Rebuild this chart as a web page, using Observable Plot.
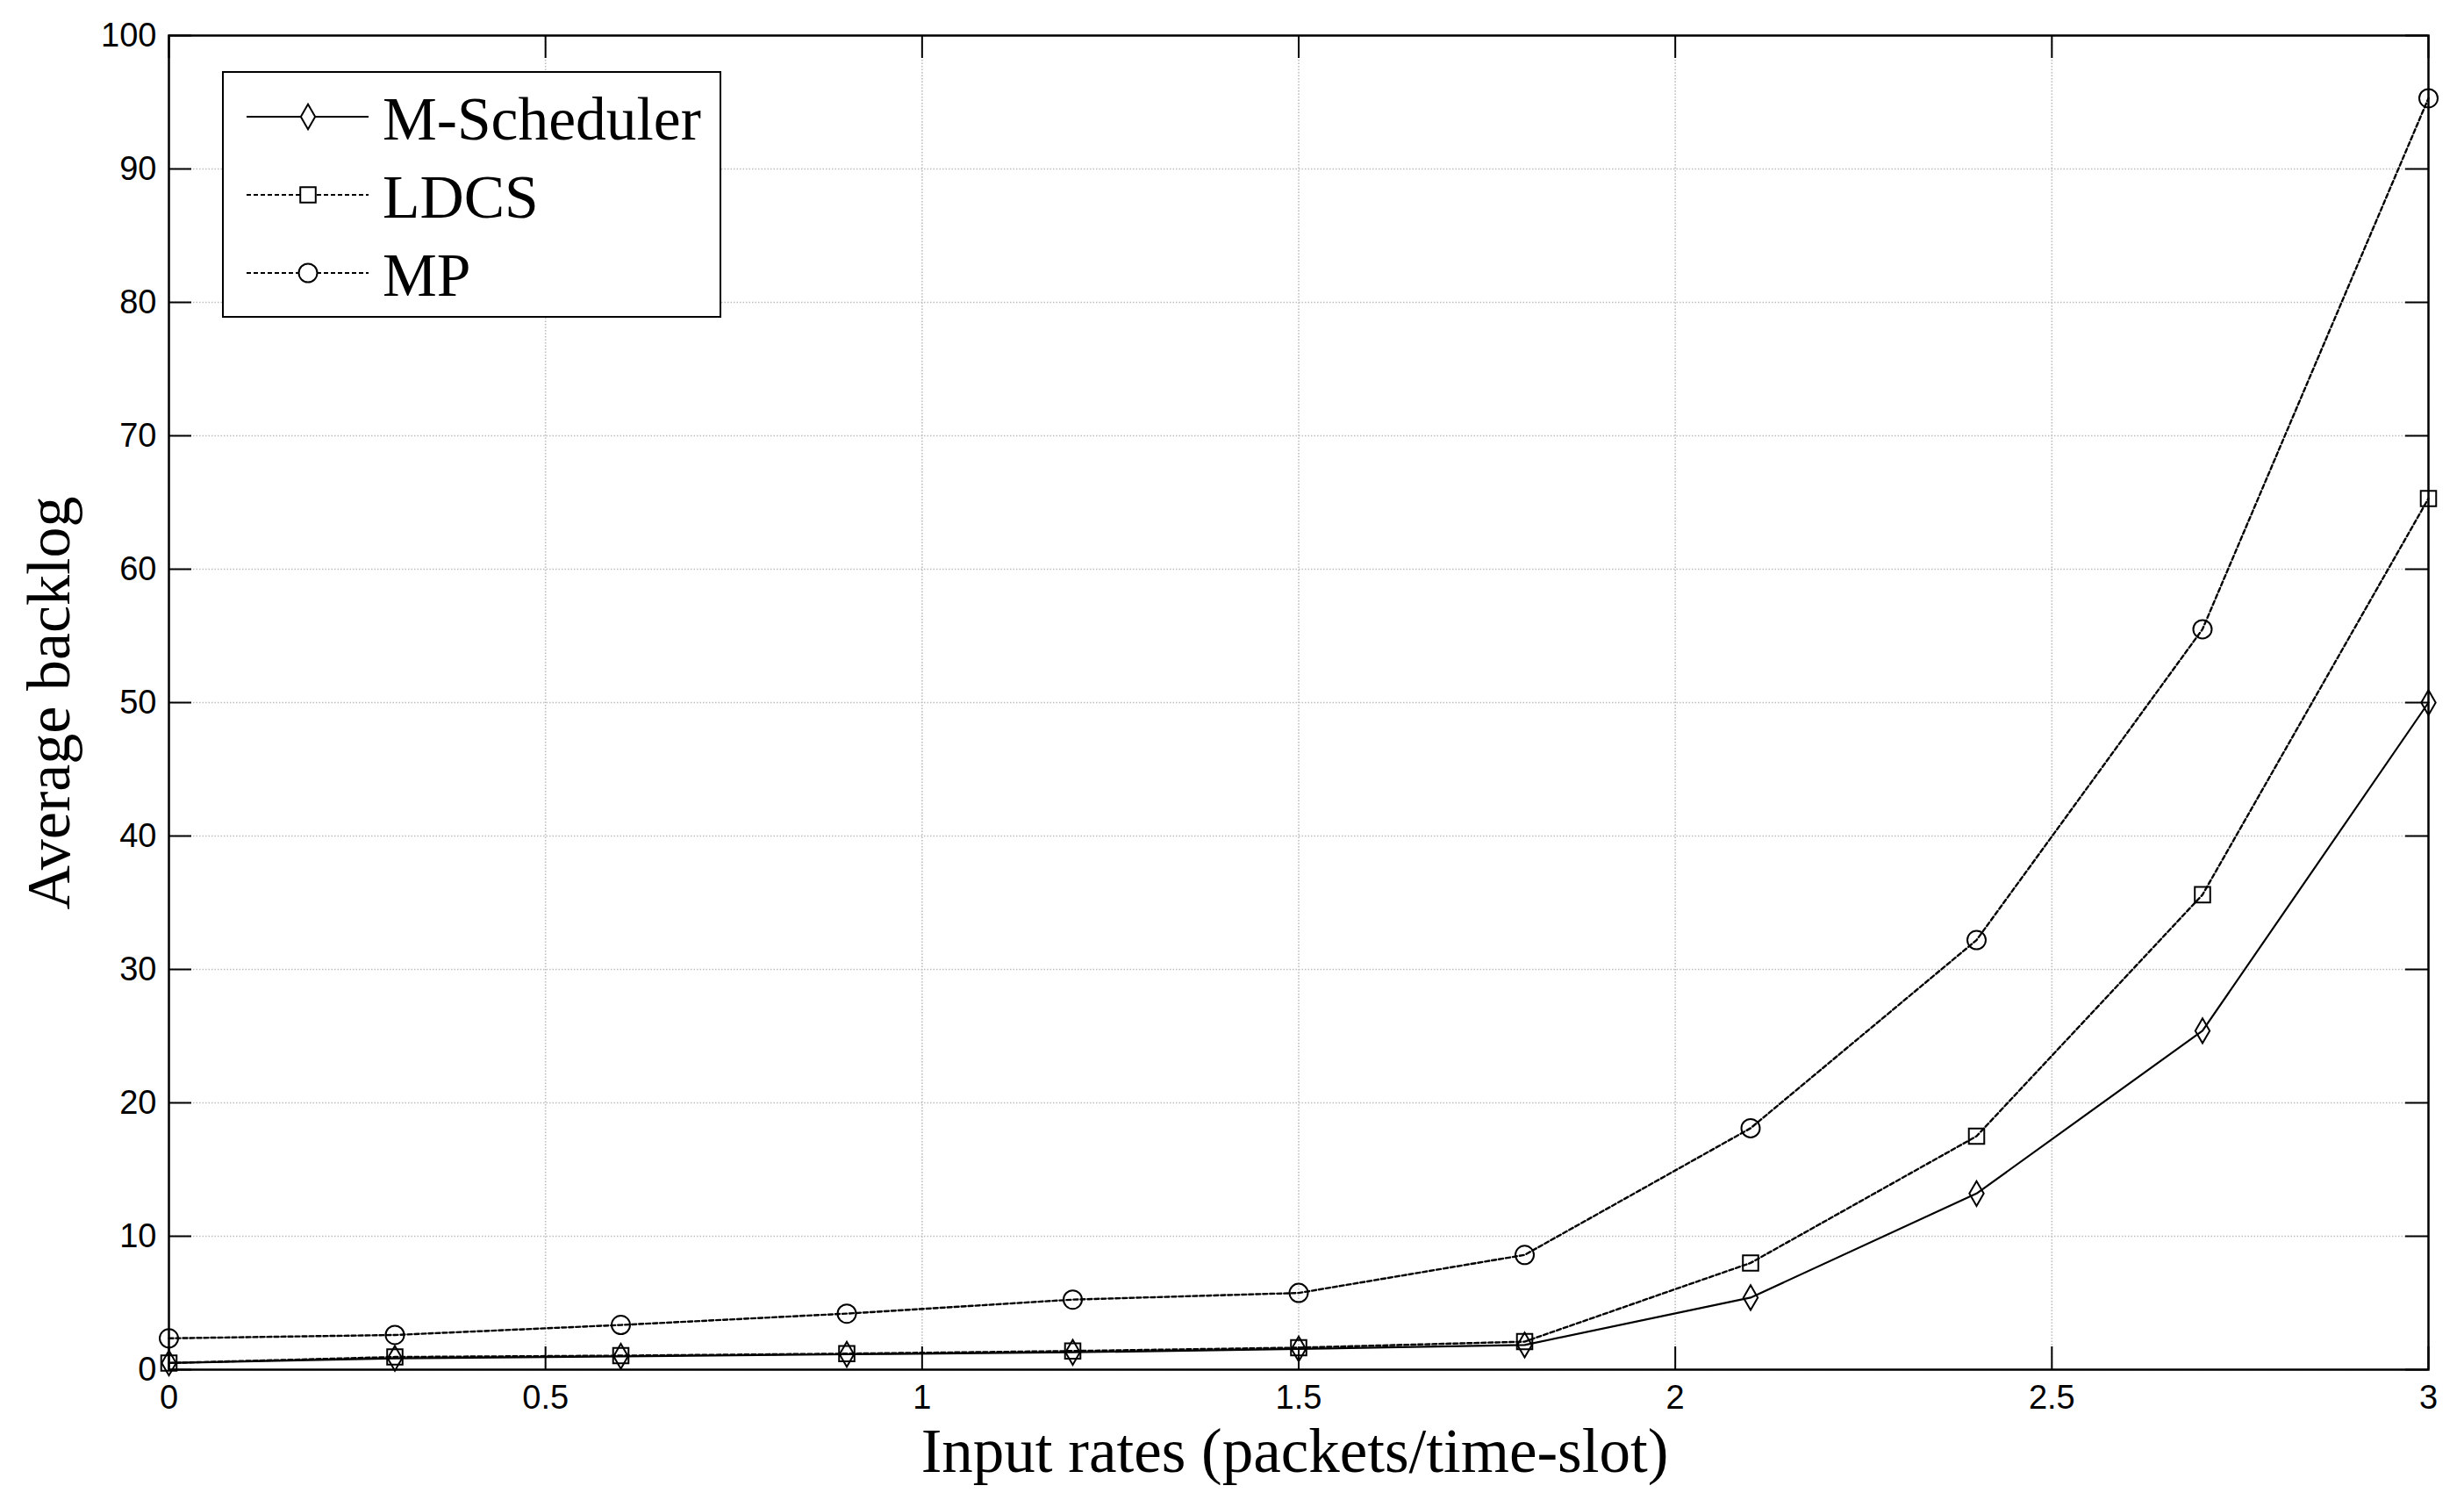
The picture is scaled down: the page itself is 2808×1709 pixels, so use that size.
<!DOCTYPE html>
<html><head><meta charset="utf-8">
<script src="https://cdn.jsdelivr.net/npm/d3@7"></script>
<script src="https://cdn.jsdelivr.net/npm/@observablehq/plot@0.6"></script>
<style>html,body{margin:0;padding:0;background:#fff;} #chart{width:2808px;height:1709px;}</style>
</head><body><div id="chart"></div>
<script>
// ---- data ----
const xValues = [0, 0.3, 0.6, 0.9, 1.2, 1.5, 1.8, 2.1, 2.4, 2.7, 3.0];
const mScheduler = [0.5, 0.85, 1.0, 1.15, 1.3, 1.55, 1.85, 5.4, 13.2, 25.4, 50.0];
const ldcs = [0.5, 0.95, 1.05, 1.2, 1.4, 1.65, 2.1, 8.0, 17.5, 35.6, 65.3];
const mp = [2.35, 2.6, 3.35, 4.2, 5.25, 5.75, 8.6, 18.1, 32.2, 55.5, 95.3];
const seriesNames = ["M-Scheduler", "LDCS", "MP"];
const xTicks = [0, 0.5, 1, 1.5, 2, 2.5, 3];
const yTicks = [0, 10, 20, 30, 40, 50, 60, 70, 80, 90, 100];
const xLabel = "Input rates (packets/time-slot)";
const yLabel = "Average backlog";

// ---- layout / style ----
const W = 2808, H = 1709;
const mL = 192, mR = 41, mT = 40, mB = 149;
const frameW = W - mL - mR, frameH = H - mT - mB;
const tickLen = 26;
const seriesValues = [mScheduler, ldcs, mp];
const styles = [
  {symbol: "diamond", r: 8.6, dash: null},
  {symbol: "square", r: 9.9, dash: "5,3"},
  {symbol: "circle", r: 10.5, dash: "5,3"}
];
const tables = seriesValues.map((vals, i) => xValues.map((x, j) => ({x, y: vals[j], series: seriesNames[i]})));

const gridStyle = {stroke: "#bdbdbd", strokeOpacity: 1, strokeWidth: 1.6, strokeDasharray: "1.5,2"};
const marks = [
  Plot.gridX(xTicks, gridStyle),
  Plot.gridY(yTicks, gridStyle)
];
tables.forEach((t, i) => {
  marks.push(Plot.line(t, {x: "x", y: "y", stroke: "black", strokeWidth: i === 0 ? 2.2 : 2.4, strokeDasharray: styles[i].dash}));
});
tables.forEach((t, i) => {
  marks.push(Plot.dot(t, {x: "x", y: "y", symbol: () => styles[i].symbol, r: styles[i].r, fill: "none", stroke: "black", strokeWidth: 2}));
});
marks.push(
  Plot.tickX(xTicks, {x: d => d, insetTop: frameH - tickLen, stroke: "black", strokeWidth: 2}),
  Plot.tickX(xTicks, {x: d => d, insetBottom: frameH - tickLen, stroke: "black", strokeWidth: 2}),
  Plot.tickY(yTicks, {y: d => d, insetRight: frameW - tickLen, stroke: "black", strokeWidth: 2}),
  Plot.tickY(yTicks, {y: d => d, insetLeft: frameW - tickLen, stroke: "black", strokeWidth: 2}),
  Plot.axisX({ticks: xTicks, tickSize: 0, tickPadding: 18, tickFormat: d => String(d), fontSize: 38, fontFamily: "Liberation Sans", label: null}),
  Plot.axisY({ticks: yTicks, tickSize: 0, tickPadding: 14, tickFormat: d => String(d), fontSize: 38, fontFamily: "Liberation Sans", label: null}),
  Plot.frame({stroke: "black", strokeWidth: 2.5})
);

const chart = Plot.plot({
  width: W, height: H,
  marginLeft: mL, marginRight: mR, marginTop: mT, marginBottom: mB,
  x: {domain: [0, 3]},
  y: {domain: [0, 100]},
  style: {background: "white", color: "black", overflow: "visible"},
  marks
});
document.getElementById("chart").appendChild(chart);

// ---- titles and legend ----
const svg = d3.select(chart);
svg.append("text").text(xLabel)
  .attr("x", mL + frameW / 2 - 4).attr("y", 1677)
  .attr("text-anchor", "middle").attr("font-family", "Liberation Serif").attr("font-size", 71).attr("fill", "black");
svg.append("text").text(yLabel)
  .attr("transform", "translate(79,801) rotate(-90)")
  .attr("text-anchor", "middle").attr("font-family", "Liberation Serif").attr("font-size", 70).attr("fill", "black");

const lg = svg.append("g");
lg.append("rect").attr("x", 254).attr("y", 82).attr("width", 567).attr("height", 279)
  .attr("fill", "white").attr("stroke", "black").attr("stroke-width", 2);
const rowY = [133, 222, 311];
seriesNames.forEach((name, i) => {
  const y = rowY[i];
  lg.append("line").attr("x1", 281).attr("x2", 420).attr("y1", y).attr("y2", y)
    .attr("stroke", "black").attr("stroke-width", 2.2).attr("stroke-dasharray", styles[i].dash);
  const sym = {diamond: d3.symbolDiamond, square: d3.symbolSquare, circle: d3.symbolCircle}[styles[i].symbol];
  lg.append("path").attr("d", d3.symbol(sym, styles[i].r * styles[i].r * Math.PI)())
    .attr("transform", `translate(351,${y})`).attr("fill", "white").attr("stroke", "black").attr("stroke-width", 2);
  lg.append("text").text(name).attr("x", 436).attr("y", y + 26)
    .attr("text-anchor", "start")
    .attr("font-family", "Liberation Serif").attr("font-size", 69.5).attr("fill", "black");
});
</script></body></html>
